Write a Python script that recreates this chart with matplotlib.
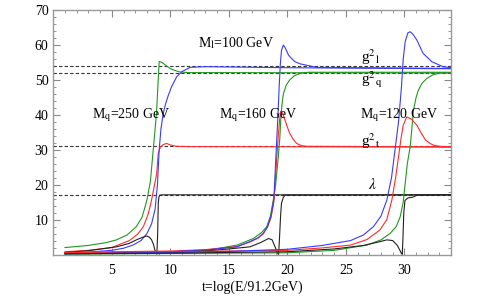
import matplotlib
matplotlib.use("Agg")
import matplotlib.pyplot as plt
from matplotlib.ticker import MultipleLocator

plt.rcParams['font.family'] = ['Liberation Serif', 'DejaVu Serif']
plt.rcParams['mathtext.fontset'] = 'stix'

# fixed point values (dashed lines)
fixed_vals = [54, 52, 31, 17]

# Mq = 250 GeV
t_b1 = [1, 3, 5, 6, 6.8, 7.5, 8.0, 8.4, 8.7, 8.9, 9.05, 9.2, 9.4, 9.6, 9.82, 10.1, 10.54, 11.0, 11.7, 13, 20, 34]
b1 = [0.4, 0.7, 1.2, 1.8, 2.7, 4.0, 6.0, 8.8, 13, 20, 30, 36, 40.5, 43.2, 45.5, 48, 50.9, 52.4, 53.6, 53.8, 53.5, 53.2]
t_g1 = [1, 3, 4.5, 5.4, 6.3, 7.1, 7.6, 8.0, 8.3, 8.54, 8.7, 8.83, 8.95, 9.05, 9.3, 9.6, 9.97, 10.4, 10.8, 11.5, 13, 34]
g1 = [2.0, 2.6, 3.4, 4.2, 5.6, 8.0, 10.8, 15.6, 21, 30, 36, 41, 49, 55.3, 55, 54.2, 53.3, 52.7, 52.3, 52.1, 52.1, 52.0]
t_r1 = [1, 3, 5, 6.5, 7.2, 7.7, 8.1, 8.4, 8.65, 8.83, 8.97, 9.15, 9.4, 9.68, 10.0, 10.5, 11.5, 34]
r1 = [0.8, 1.2, 2.0, 4.0, 5.8, 8.0, 11.5, 15.6, 20, 23, 29, 30.8, 31.5, 31.8, 31.4, 31.0, 30.9, 30.8]
t_k1 = [1, 3, 5.4, 6.5, 7.1, 7.6, 7.97, 8.2, 8.4, 8.55, 8.68, 8.78, 8.85, 8.92, 8.97, 9.03, 9.1, 9.3, 34]
k1 = [0.6, 1.1, 2.2, 3.2, 4.2, 4.9, 5.3, 5.0, 4.2, 3.0, 1.3, 0.4, 0.1, 6, 14.7, 16.5, 17.0, 17.1, 17.1]

# Mq = 160 GeV
t_b2 = [1, 5, 10, 13, 15.7, 16.8, 17.5, 17.95, 18.3, 18.6, 18.85, 19.05, 19.2, 19.3, 19.4, 19.5, 19.66, 19.85, 20.1, 20.4, 20.66, 21.1, 21.66, 22.5, 34]
b2 = [0.3, 0.5, 0.8, 1.3, 2.2, 3.7, 4.8, 6.1, 8.0, 11, 16, 30, 40, 48, 54.5, 58.5, 60, 59, 57.1, 56, 55.2, 54.6, 54.2, 53.6, 53.3]
t_r2 = [1, 5, 10, 13, 15.7, 16.8, 17.5, 17.95, 18.3, 18.6, 18.85, 19.1, 19.25, 19.35, 19.43, 19.6, 19.8, 20.0, 20.2, 20.5, 20.8, 21.2, 21.6, 34]
r2 = [0.6, 0.8, 1.0, 1.4, 2.3, 3.6, 4.7, 6.0, 7.8, 10.5, 15, 28, 35, 39, 41, 40.5, 38.5, 36.5, 34.7, 33, 31.8, 31.2, 31.0, 30.8]
t_g2 = [1, 10, 13, 15.7, 17.1, 17.8, 18.24, 18.55, 18.8, 19.0, 19.2, 19.35, 19.46, 19.56, 19.66, 19.9, 20.2, 20.6, 21.1, 21.8, 34]
g2 = [0.2, 0.5, 1.1, 2.7, 4.6, 6.3, 8.0, 11, 15.6, 20, 27, 33, 40, 43.5, 46, 48.5, 50, 51.2, 51.9, 52.2, 52.2]
t_k2 = [1, 10, 13, 15, 16.8, 17.7, 18.4, 18.7, 18.95, 19.1, 19.2, 19.25, 19.32, 19.42, 19.5, 19.65, 19.8, 34]
k2 = [0.3, 0.6, 1.0, 1.6, 2.2, 3.4, 4.6, 4.2, 2.2, 0.9, 0.2, 0.05, 4, 11, 14.7, 16.3, 17.0, 17.1]

# Mq = 120 GeV
t_b3 = [1, 10, 15, 20, 23, 25.4, 26.5, 27.36, 28.0, 28.5, 28.9, 29.2, 29.5, 29.75, 29.9, 30.07, 30.3, 30.5, 30.75, 31.07, 31.6, 32.35, 33.3, 34]
b3 = [0.2, 0.6, 0.9, 1.5, 2.6, 4.0, 5.6, 8.0, 11, 15.6, 22, 30, 38, 48, 56, 61, 63.5, 63.8, 63, 61.4, 57.6, 55.2, 53.8, 53.5]
t_r3 = [1, 10, 15, 20, 23, 25.4, 26.8, 27.9, 28.5, 28.93, 29.25, 29.5, 29.7, 29.9, 30.2, 30.6, 31.07, 31.4, 31.8, 32.2, 32.5, 33, 34]
r3 = [0.5, 0.8, 1.0, 1.2, 1.9, 2.7, 4.3, 7.0, 10, 15.6, 22, 28, 33, 37, 39.4, 38.8, 37, 35, 32.8, 31.8, 31.3, 31.0, 30.8]
t_g3 = [1, 10, 20, 24, 26.8, 28.0, 28.8, 29.3, 29.64, 29.9, 30.07, 30.25, 30.5, 30.78, 31.0, 31.2, 31.5, 31.9, 32.4, 33.06, 34]
g3 = [0.1, 0.3, 0.5, 1.2, 2.7, 4.2, 6.1, 8.0, 10.8, 15, 20.4, 26, 31, 41.4, 45, 47.1, 49, 50.4, 51.4, 52, 52.1]
t_k3 = [1, 10, 20, 24, 26.5, 27.8, 28.5, 29.0, 29.4, 29.6, 29.75, 29.82, 29.88, 29.95, 30.05, 30.3, 30.7, 31.07, 34]
k3 = [0.2, 0.4, 0.8, 1.6, 2.6, 3.6, 4.2, 4.0, 2.6, 1.3, 0.3, 0.05, 5, 12, 15.5, 16.2, 16.4, 17.0, 17.1]

BLUE = '#3a3aff'
GREEN = '#1f991f'
RED = '#ff2a2a'
BLACK = '#222222'
lw = 0.8

fig = plt.figure(figsize=(4.8, 2.97), dpi=100)
ax = fig.add_axes([0.111, 0.143, 0.829, 0.823])

for v in fixed_vals:
    ax.plot([0, 34], [v, v], color='#333333', lw=0.8, ls=(0, (3, 2)))

for t, y, c in [(t_g1, g1, GREEN), (t_r1, r1, RED), (t_b1, b1, BLUE), (t_k1, k1, BLACK),
                (t_g2, g2, GREEN), (t_r2, r2, RED), (t_b2, b2, BLUE), (t_k2, k2, BLACK),
                (t_g3, g3, GREEN), (t_r3, r3, RED), (t_b3, b3, BLUE), (t_k3, k3, BLACK)]:
    ax.plot(t, y, color=c, lw=lw)

ax.set_xlim(0, 34)
ax.set_ylim(0, 70)
ax.set_xticks([5, 10, 15, 20, 25, 30])
ax.set_yticks([10, 20, 30, 40, 50, 60, 70])
ax.xaxis.set_minor_locator(MultipleLocator(1))
ax.yaxis.set_minor_locator(MultipleLocator(2))
ax.tick_params(which='both', direction='in', top=True, right=True, colors='#888888',
               labelcolor='black', labelsize=10)
ax.tick_params(which='major', length=5, width=0.8)
ax.tick_params(which='minor', length=2.5, width=0.6)
ax.tick_params(axis='x', pad=7)
for s in ax.spines.values():
    s.set_color('#999999')
    s.set_linewidth(1.0)

ax.set_xlabel('t=log(E/91.2GeV)', fontsize=10, labelpad=2)

fs = 10
ax.text(12.4, 60.5, r'M$_{\rm l}$=100 GeV', fontsize=fs, va='center')
ax.text(3.3, 40, r'M$_{\rm q}$=250 GeV', fontsize=fs, va='center')
ax.text(14.2, 40, r'M$_{\rm q}$=160 GeV', fontsize=fs, va='center')
ax.text(26.2, 40, r'M$_{\rm q}$=120 GeV', fontsize=fs, va='center')
ax.text(26.3, 56.5, r'g$^{2}$$_{\rm l}$', fontsize=11, va='center')
ax.text(26.3, 50.0, r'g$^{2}$$_{\rm q}$', fontsize=11, va='center')
ax.text(26.3, 32.5, r'g$^{2}$$_{\rm t}$', fontsize=11, va='center')
ax.text(26.9, 20, r'$\lambda$', fontsize=11, va='center')

fig.savefig('out.png', dpi=100)
